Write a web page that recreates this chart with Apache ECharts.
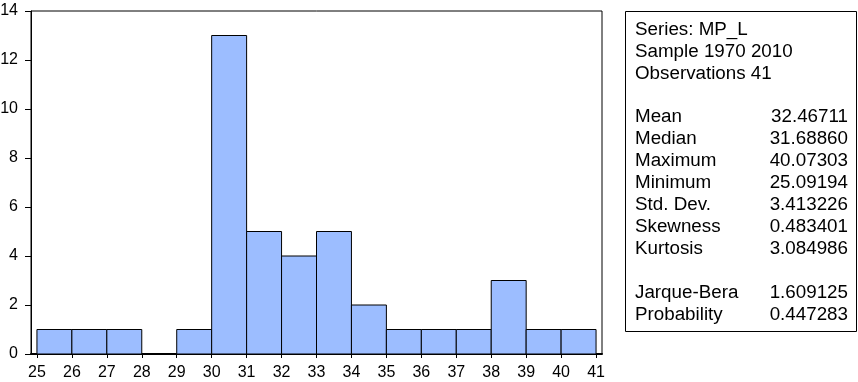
<!DOCTYPE html>
<html><head><meta charset="utf-8">
<script src="https://cdn.jsdelivr.net/npm/echarts@6/dist/echarts.min.js"></script>
<style>html,body{margin:0;padding:0;background:#fff}#c{width:858px;height:382px}</style>
</head><body><div id="c"></div>
<script>
const binStarts = [25,26,27,28,29,30,31,32,33,34,35,36,37,38,39,40];
const counts    = [1,1,1,0,1,13,5,4,5,2,1,1,1,3,1,1];
const xTicks = [25,26,27,28,29,30,31,32,33,34,35,36,37,38,39,40,41];
const statHeader = ["Series: MP_L","Sample 1970 2010","Observations 41"];
const statNames = ["Mean","Median","Maximum","Minimum","Std. Dev.","Skewness","Kurtosis"];
const statValues = ["32.46711","31.68860","40.07303","25.09194","3.413226","0.483401","3.084986"];
const testNames = ["Jarque-Bera","Probability"];
const testValues = ["1.609125","0.447283"];

const font = '"Liberation Sans", Arial, sans-serif';
const chart = echarts.init(document.getElementById('c'), null, {renderer:'canvas'});
const data = binStarts.map((s,i)=>[s, s+1, counts[i]]);

const texts = [];
const lx = 635, rx = 848, lh = 22, fs = '18.8px ';
statHeader.forEach((t,i)=>texts.push({type:'text', style:{text:t, x:lx, y:30+i*lh, font:fs+font, fill:'#000', textVerticalAlign:'middle'}}));
statNames.forEach((t,i)=>{
  texts.push({type:'text', style:{text:t, x:lx, y:117+i*lh, font:fs+font, fill:'#000', textVerticalAlign:'middle'}});
  texts.push({type:'text', style:{text:statValues[i], x:rx, y:117+i*lh, font:fs+font, fill:'#000', textAlign:'right', textVerticalAlign:'middle'}});
});
testNames.forEach((t,i)=>{
  texts.push({type:'text', style:{text:t, x:lx, y:293+i*lh, font:fs+font, fill:'#000', textVerticalAlign:'middle'}});
  texts.push({type:'text', style:{text:testValues[i], x:rx, y:293+i*lh, font:fs+font, fill:'#000', textAlign:'right', textVerticalAlign:'middle'}});
});

chart.setOption({
  animation:false,
  backgroundColor:'#fff',
  grid:{left:31, right:256, top:11, bottom:28, show:true, borderColor:'#000', borderWidth:1, backgroundColor:'transparent', containLabel:false, outerBoundsMode:'none'},
  xAxis:{type:'value', min:24.83, max:41.17,
    axisLine:{show:true, onZero:false, lineStyle:{color:'#000', width:2}},
    axisTick:{show:true, length:4, customValues:xTicks, lineStyle:{color:'#000'}},
    axisLabel:{customValues:xTicks, color:'#000', fontSize:16, fontFamily:font, margin:11, formatter:v=>String(Math.round(v))},
    splitLine:{show:false}},
  yAxis:{type:'value', min:0, max:14, interval:2,
    axisLine:{show:true, lineStyle:{color:'#000'}},
    axisTick:{show:true, length:6, lineStyle:{color:'#000'}},
    axisLabel:{color:'#000', fontSize:16, fontFamily:font, margin:13},
    splitLine:{show:false}},
  series:[{type:'custom', data:data,
    renderItem:function(params, api){
      const p0 = api.coord([api.value(0), api.value(2)]);
      const p1 = api.coord([api.value(1), 0]);
      if (api.value(2) <= 0) return null;
      return {type:'rect', shape:{x:p0[0], y:p0[1], width:p1[0]-p0[0], height:p1[1]-p0[1]},
        style:{fill:'#9cbdff', stroke:'#000', lineWidth:1}};
    },
    encode:{x:[0,1], y:2}, z:2}],
  graphic:[{type:'rect', shape:{x:625.5, y:11.5, width:231, height:320}, style:{fill:'#fff', stroke:'#000', lineWidth:1}}].concat(texts)
});
</script></body></html>
